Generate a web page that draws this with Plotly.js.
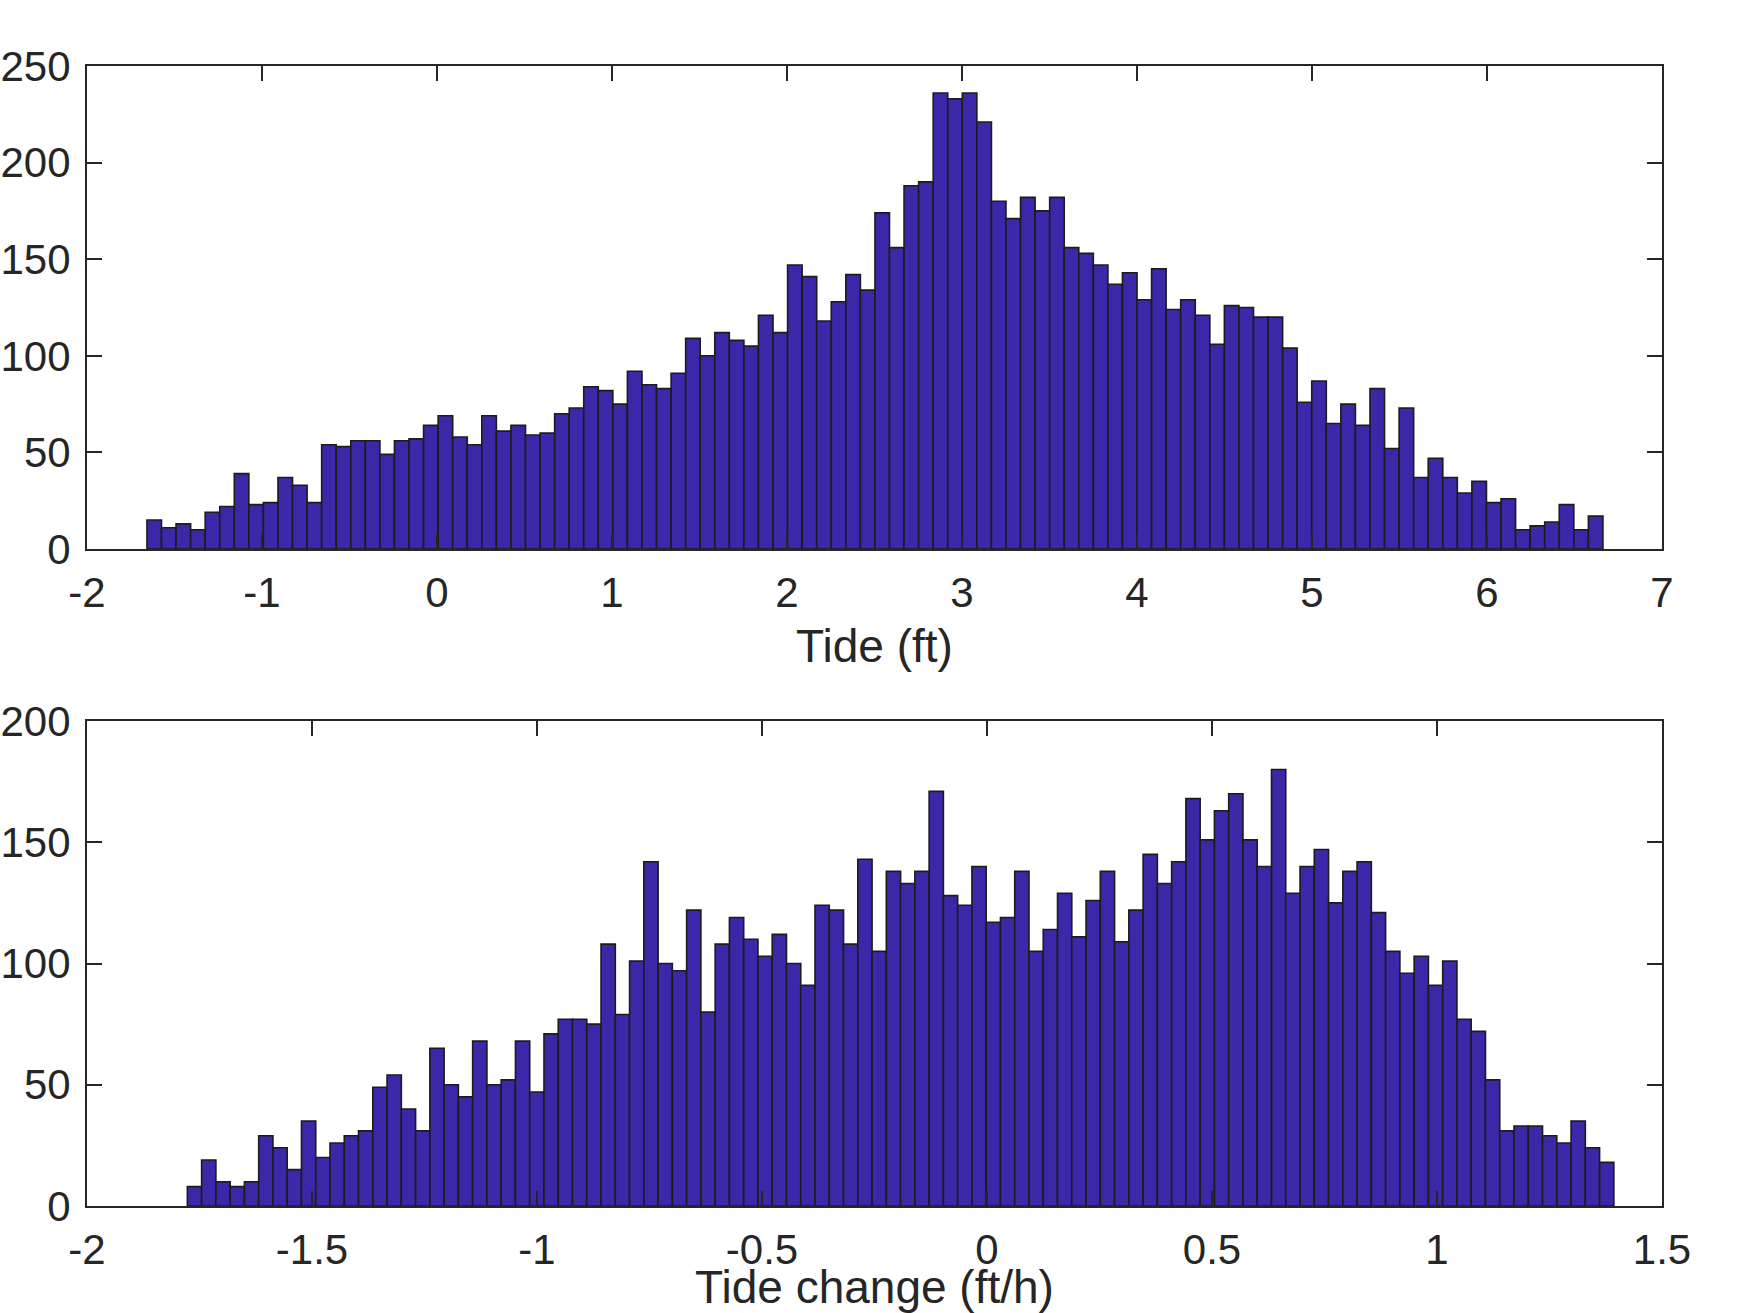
<!DOCTYPE html>
<html>
<head>
<meta charset="utf-8">
<script src="https://cdn.plot.ly/plotly-3.0.1.min.js"></script>
<style>
  html, body { margin: 0; padding: 0; background: #fff; }
  #graph { width: 1750px; height: 1313px; }
</style>
</head>
<body>
<div id="graph"></div>
<script>
// Tide histogram (100 bins)
var tideStart = -1.6575;
var tideWidth = 0.0832;
var tideCounts = [
  15, 11, 13, 10, 19, 22, 39, 23, 24, 37,
  33, 24, 54, 53, 56, 56, 49, 56, 57, 64,
  69, 58, 54, 69, 61, 64, 59, 60, 70, 73,
  84, 82, 75, 92, 85, 83, 91, 109, 100, 112,
  108, 105, 121, 112, 147, 141, 118, 128, 142, 134,
  174, 156, 188, 190, 236, 233, 236, 221, 180, 171,
  182, 175, 182, 156, 153, 147, 137, 143, 129, 145,
  124, 129, 121, 106, 126, 125, 120, 120, 104, 76,
  87, 65, 75, 64, 83, 52, 73, 37, 47, 37,
  29, 35, 24, 26, 10, 12, 14, 23, 10, 17
];

// Tide change histogram (100 bins)
var changeStart = -1.777;
var changeWidth = 0.0317;
var changeCounts = [
  8, 19, 10, 8, 10, 29, 24, 15, 35, 20,
  26, 29, 31, 49, 54, 40, 31, 65, 50, 45,
  68, 50, 52, 68, 47, 71, 77, 77, 75, 108,
  79, 101, 142, 100, 97, 122, 80, 108, 119, 110,
  103, 112, 100, 91, 124, 122, 108, 143, 105, 138,
  133, 138, 171, 128, 124, 140, 117, 119, 138, 105,
  114, 129, 111, 126, 138, 109, 122, 145, 133, 142,
  168, 151, 163, 170, 151, 140, 180, 129, 140, 147,
  125, 138, 142, 121, 105, 96, 103, 91, 101, 77,
  72, 52, 31, 33, 33, 29, 26, 35, 24, 18
];

var tideTicks = [-2, -1, 0, 1, 2, 3, 4, 5, 6, 7];
var tideTickText = ['-2', '-1', '0', '1', '2', '3', '4', '5', '6', '7'];
var changeTicks = [-2, -1.5, -1, -0.5, 0, 0.5, 1, 1.5];
var changeTickText = ['-2', '-1.5', '-1', '-0.5', '0', '0.5', '1', '1.5'];
var tideYTicks = [0, 50, 100, 150, 200, 250];
var changeYTicks = [0, 50, 100, 150, 200];

function centers(start, width, n) {
  var c = [];
  for (var i = 0; i < n; i++) c.push(start + (i + 0.5) * width);
  return c;
}

var ink = '#262626';
var barFill = '#3b28a8';

var traces = [{
  type: 'bar',
  x: centers(tideStart, tideWidth, tideCounts.length),
  y: tideCounts,
  width: tideWidth,
  marker: {color: barFill, line: {color: '#1c1c1c', width: 1.6}},
  xaxis: 'x', yaxis: 'y',
  hoverinfo: 'x+y'
}, {
  type: 'bar',
  x: centers(changeStart, changeWidth, changeCounts.length),
  y: changeCounts,
  width: changeWidth,
  marker: {color: barFill, line: {color: '#1c1c1c', width: 1.6}},
  xaxis: 'x2', yaxis: 'y2',
  hoverinfo: 'x+y'
}];

var tickFont = {family: 'Liberation Sans, Arial, sans-serif', size: 42, color: ink};
var titleFont = {family: 'Liberation Sans, Arial, sans-serif', size: 46, color: ink};

function axisBase() {
  return {
    showline: true, linecolor: ink, linewidth: 2,
    mirror: 'allticks', ticks: 'inside', ticklen: 15, tickwidth: 2, tickcolor: ink,
    showgrid: false, zeroline: false, tickfont: tickFont, fixedrange: true
  };
}

var layout = {
  width: 1750, height: 1313,
  margin: {l: 87, r: 88, t: 66, b: 107},
  paper_bgcolor: '#fff', plot_bgcolor: '#fff',
  showlegend: false, bargap: 0,
  xaxis: Object.assign(axisBase(), {
    domain: [0, 1], anchor: 'y', range: [-2, 7],
    tickvals: tideTicks, ticktext: tideTickText, ticklabelstandoff: 6,
    title: {text: 'Tide (ft)', font: titleFont, standoff: 14}
  }),
  yaxis: Object.assign(axisBase(), {
    domain: [0.5763, 1], anchor: 'x', range: [0, 250],
    tickvals: tideYTicks, ticklabelstandoff: 6
  }),
  xaxis2: Object.assign(axisBase(), {
    domain: [0, 1], anchor: 'y2', range: [-2, 1.5],
    tickvals: changeTicks, ticktext: changeTickText, ticklabelstandoff: 6,
    title: {text: 'Tide change (ft/h)', font: titleFont, standoff: 28}
  }),
  yaxis2: Object.assign(axisBase(), {
    domain: [0, 0.4254], anchor: 'x2', range: [0, 200],
    tickvals: changeYTicks, ticklabelstandoff: 6
  })
};

Plotly.newPlot('graph', traces, layout, {displayModeBar: false, staticPlot: true});
</script>
</body>
</html>
